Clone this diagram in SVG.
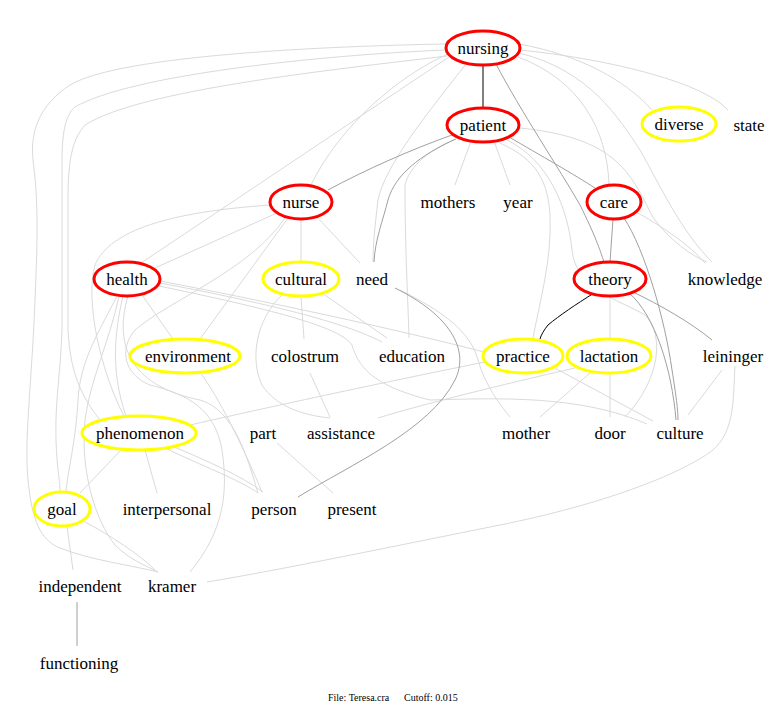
<svg xmlns="http://www.w3.org/2000/svg" width="780" height="711" viewBox="0 0 780 711">
<style>
.l{fill:none;stroke:#dadada;stroke-width:1}
.d{fill:none;stroke:#a0a0a0;stroke-width:1}
.b{fill:none;stroke:#000;stroke-width:1}
.r{fill:#fff;stroke:#ff0000;stroke-width:3}
.y{fill:#fff;stroke:#ffff00;stroke-width:3}
text{font-family:"Liberation Serif","Times New Roman",serif;font-size:17px;fill:#000;text-anchor:middle}
.f{font-size:10px;text-anchor:start}
</style>
<rect width="780" height="711" fill="#fff"/>
<g id="connectors">
<path class="l" d="M449,57 L141,263"/>
<path class="l" d="M448,54 C400,75 340,125 311,185"/>
<path class="l" d="M446,44 C330,46 120,55 70,85 C40,105 30,130 33,160 C38,200 38,230 35,300 C32,380 24,440 28,480 C32,520 40,540 60,548 C90,560 130,565 158,572"/>
<path class="l" d="M446,50 C320,55 130,75 75,107 C65,115 62,135 62,160 L62,330 C60,380 55,400 56,440 C57,470 60,480 60,491"/>
<path class="l" d="M447,56 C330,70 140,90 85,125 C72,140 68,160 68,200 L68,330 C70,370 80,395 100,420"/>
<path class="l" d="M466,64 C430,110 385,165 378,200 C375,225 373,245 373,262"/>
<path class="l" d="M518,57 C580,80 607,130 609,184"/>
<path class="l" d="M519,53 C590,70 620,120 640,150 C660,185 680,230 712,262"/>
<path class="l" d="M519,44 C580,55 625,80 652,110"/>
<path class="l" d="M520,50 C600,58 700,80 728,110"/>
<path class="l" d="M455,139 C430,150 410,165 405,185 C405,250 408,300 409,338"/>
<path class="l" d="M471,141 L455,185"/>
<path class="l" d="M494,141 L510,185"/>
<path class="l" d="M495,141 C530,155 548,175 550,215 C552,260 540,300 533,338"/>
<path class="l" d="M505,139 C550,160 568,210 572,250 C576,290 620,300 645,315 C665,335 660,380 625,417"/>
<path class="l" d="M520,128 C570,133 600,145 620,165 C640,185 650,215 655,220 C670,240 690,255 707,262"/>
<path class="l" d="M636,212 C660,225 690,245 705,263"/>
<path class="l" d="M610,296 L610,339"/>
<path class="l" d="M301,219 L301,262"/>
<path class="l" d="M317,217 L360,263"/>
<path class="l" d="M277,213 L155,268"/>
<path class="l" d="M288,218 L200,339"/>
<path class="l" d="M270,205 C170,212 110,230 95,265 C85,300 100,370 124,416"/>
<path class="l" d="M285,218 C250,270 170,300 135,330 C118,350 125,375 150,385 C190,395 215,410 222,450 C228,490 225,530 190,572"/>
<path class="l" d="M160,283 C250,300 340,320 382,342"/>
<path class="l" d="M160,281 C260,300 400,330 484,352"/>
<path class="l" d="M159,286 C250,305 340,325 352,345 C358,365 370,385 430,400 C500,398 580,395 647,424"/>
<path class="l" d="M142,295 L173,339"/>
<path class="l" d="M117,296 C100,330 80,360 78,400 C76,440 68,470 66,491"/>
<path class="l" d="M123,296 C115,330 110,370 126,416"/>
<path class="l" d="M119,296 C110,340 90,380 85,420 C80,470 95,520 115,545 C130,560 145,565 158,572"/>
<path class="l" d="M128,296 C115,340 125,385 200,400 C235,410 248,460 258,493"/>
<path class="l" d="M200,372 C220,400 240,440 262,492"/>
<path class="l" d="M122,449 L80,493"/>
<path class="l" d="M145,450 L157,493"/>
<path class="l" d="M165,448 C200,465 240,480 258,493"/>
<path class="l" d="M172,446 C205,460 240,475 263,492"/>
<path class="l" d="M190,425 C300,400 420,375 485,362"/>
<path class="l" d="M575,368 C500,385 420,405 378,418"/>
<path class="l" d="M283,294 C255,320 250,360 262,385 C275,405 300,415 330,418"/>
<path class="l" d="M301,297 L304,339"/>
<path class="l" d="M322,293 L387,338"/>
<path class="l" d="M310,373 L330,417"/>
<path class="l" d="M277,443 L333,493"/>
<path class="l" d="M400,290 C440,310 470,330 478,360 C485,385 500,405 510,417"/>
<path class="l" d="M590,373 L540,417"/>
<path class="l" d="M610,373 L610,417"/>
<path class="l" d="M553,367 L653,421"/>
<path class="l" d="M722,370 L688,415"/>
<path class="l" d="M735,366 C733,400 735,430 713,450 C680,475 600,505 500,525 C400,545 280,570 207,582"/>
<path class="l" d="M67,526 L73,570"/>
<path class="l" d="M83,521 C110,535 140,555 155,570"/>
<path class="d" d="M496,64 C520,110 560,170 580,205 C595,235 600,250 604,262"/>
<path class="d" d="M452,135 C410,150 365,170 328,190"/>
<path class="d" d="M456,139 C420,155 395,175 388,200 C383,220 375,240 374,262"/>
<path class="d" d="M509,137 C540,155 575,175 595,188"/>
<path class="d" d="M613,219 L610,262"/>
<path class="d" d="M624,218 C645,250 665,320 672,370 C676,395 678,410 678,420"/>
<path class="d" d="M633,292 C660,305 690,322 712,340"/>
<path class="d" d="M629,293 C655,315 672,370 676,420"/>
<path class="d" d="M395,288 C450,315 470,350 455,380 C430,430 350,465 298,497"/>
<path class="d" d="M77,602 L77,646"/>
<path class="b" d="M483,65 L483,107"/>
<path class="b" d="M594,293 C575,305 560,315 548,325 C544,330 541,335 540,339"/>
</g>
<g id="nursing"><ellipse class="r" cx="483" cy="48" rx="37" ry="17"/><text x="483" y="54">nursing</text></g>
<g id="patient"><ellipse class="r" cx="483" cy="125" rx="36" ry="17"/><text x="483" y="131">patient</text></g>
<g id="diverse"><ellipse class="y" cx="679" cy="124" rx="37" ry="17"/><text x="679" y="130">diverse</text></g>
<g id="state"><text x="749" y="131">state</text></g>
<g id="nurse"><ellipse class="r" cx="301" cy="202" rx="31" ry="17"/><text x="301" y="208">nurse</text></g>
<g id="mothers"><text x="448" y="208">mothers</text></g>
<g id="year"><text x="518" y="208">year</text></g>
<g id="care"><ellipse class="r" cx="614" cy="202" rx="27" ry="17"/><text x="614" y="208">care</text></g>
<g id="health"><ellipse class="r" cx="127" cy="279" rx="33" ry="17"/><text x="127" y="285">health</text></g>
<g id="cultural"><ellipse class="y" cx="301" cy="279" rx="38" ry="17"/><text x="301" y="285">cultural</text></g>
<g id="need"><text x="372" y="285">need</text></g>
<g id="theory"><ellipse class="r" cx="610" cy="279" rx="36" ry="17"/><text x="610" y="285">theory</text></g>
<g id="knowledge"><text x="725" y="285">knowledge</text></g>
<g id="environment"><ellipse class="y" cx="185" cy="356" rx="55" ry="17"/><text x="188" y="362">environment</text></g>
<g id="colostrum"><text x="305" y="362">colostrum</text></g>
<g id="education"><text x="412" y="362">education</text></g>
<g id="practice"><ellipse class="y" cx="523" cy="356" rx="40" ry="17"/><text x="523" y="362">practice</text></g>
<g id="lactation"><ellipse class="y" cx="609" cy="356" rx="42" ry="17"/><text x="609" y="362">lactation</text></g>
<g id="leininger"><text x="733" y="362">leininger</text></g>
<g id="phenomenon"><ellipse class="y" cx="139" cy="433" rx="57" ry="17"/><text x="140" y="439">phenomenon</text></g>
<g id="part"><text x="263" y="439">part</text></g>
<g id="assistance"><text x="341" y="439">assistance</text></g>
<g id="mother"><text x="526" y="439">mother</text></g>
<g id="door"><text x="610" y="439">door</text></g>
<g id="culture"><text x="680" y="439">culture</text></g>
<g id="goal"><ellipse class="y" cx="62" cy="509" rx="28" ry="17"/><text x="62" y="515">goal</text></g>
<g id="interpersonal"><text x="167" y="515">interpersonal</text></g>
<g id="person"><text x="274" y="515">person</text></g>
<g id="present"><text x="352" y="515">present</text></g>
<g id="independent"><text x="80" y="592">independent</text></g>
<g id="kramer"><text x="172" y="592">kramer</text></g>
<g id="functioning"><text x="79" y="669">functioning</text></g>
<g id="footer"><text class="f" x="328" y="701">File: Teresa.cra</text><text class="f" x="404" y="701">Cutoff: 0.015</text></g>
</svg>
